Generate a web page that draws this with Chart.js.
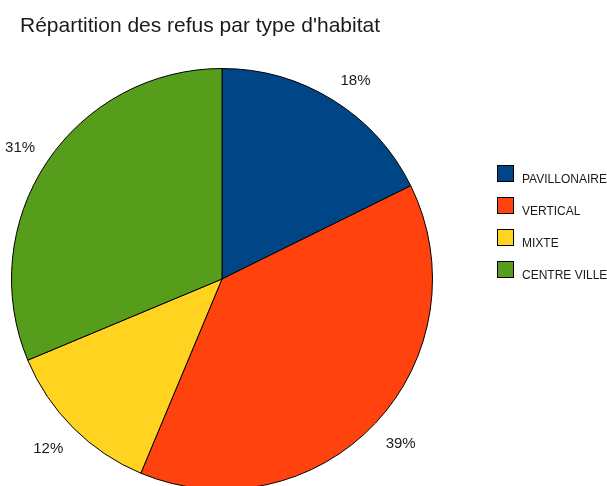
<!DOCTYPE html>
<html>
<head>
<meta charset="utf-8">
<title>Répartition des refus par type d'habitat</title>
<script src="https://cdn.jsdelivr.net/npm/chart.js@4/dist/chart.umd.min.js"></script>
<style>
    html, body { margin: 0; padding: 0; background: #fff; overflow: hidden; }
    #refusChart { display: block; }
</style>
</head>
<body>
<canvas id="refusChart" width="607" height="500"></canvas>
<script>
const title = "Répartition des refus par type d'habitat";
const categories = ['PAVILLONAIRE', 'VERTICAL', 'MIXTE', 'CENTRE VILLE'];
const refus = [17.7, 38.6, 12.4, 31.3];
const colors = ['#004586', '#ff420e', '#ffd320', '#579d1c'];

// texts drawn by hand: title, % labels around the pie, legend on the right
const textPlugin = {
    id: 'texts',
    afterDraw: function (chart) {
        let ctx = chart.ctx;
        let meta = chart.getDatasetMeta(0);
        let total = refus.reduce(function (a, b) { return a + b; }, 0);
        ctx.save();
        ctx.fillStyle = '#1a1a1a';
        ctx.font = '21px "Liberation Sans", Arial, sans-serif';
        ctx.textAlign = 'left';
        ctx.textBaseline = 'alphabetic';
        ctx.fillText(title, 20, 32);

        // label box corner sits just outside the arc, on the slice's middle angle
        ctx.font = '15px "Liberation Sans", Arial, sans-serif';
        ctx.textBaseline = 'middle';
        meta.data.forEach(function (arc, i) {
            let p = arc.getProps(['x', 'y', 'startAngle', 'endAngle', 'outerRadius'], true);
            let mid = (p.startAngle + p.endAngle) / 2;
            let r = p.outerRadius + 14;
            let ax = p.x + Math.cos(mid) * r;
            let ay = p.y + Math.sin(mid) * r;
            let label = Math.round(refus[i] / total * 100) + '%';
            ctx.textAlign = Math.cos(mid) >= 0 ? 'left' : 'right';
            ctx.fillText(label, ax, ay + (Math.sin(mid) > 0 ? 11 : -7));
        });

        ctx.font = '12px "Liberation Sans", Arial, sans-serif';
        ctx.textAlign = 'left';
        ctx.textBaseline = 'alphabetic';
        categories.forEach(function (name, i) {
            let top = 165 + i * 32;
            ctx.fillStyle = colors[i];
            ctx.fillRect(497, top, 16, 16);
            ctx.strokeStyle = '#000';
            ctx.lineWidth = 1;
            ctx.strokeRect(497.5, top + 0.5, 16, 16);
            ctx.fillStyle = '#1a1a1a';
            ctx.fillText(name, 522, top + 18);
        });
        ctx.restore();
    }
};

new Chart(document.getElementById('refusChart'), {
    type: 'pie',
    data: {
        labels: categories,
        datasets: [{
            data: refus,
            backgroundColor: colors,
            borderColor: '#000000',
            borderWidth: 1
        }]
    },
    options: {
        responsive: false,
        animation: false,
        devicePixelRatio: 1,
        events: [],
        layout: {
            padding: { left: 11, right: 174, top: 68, bottom: 10 }
        },
        plugins: {
            legend: { display: false },
            title: { display: false },
            tooltip: { enabled: false }
        }
    },
    plugins: [textPlugin]
});
</script>
</body>
</html>
